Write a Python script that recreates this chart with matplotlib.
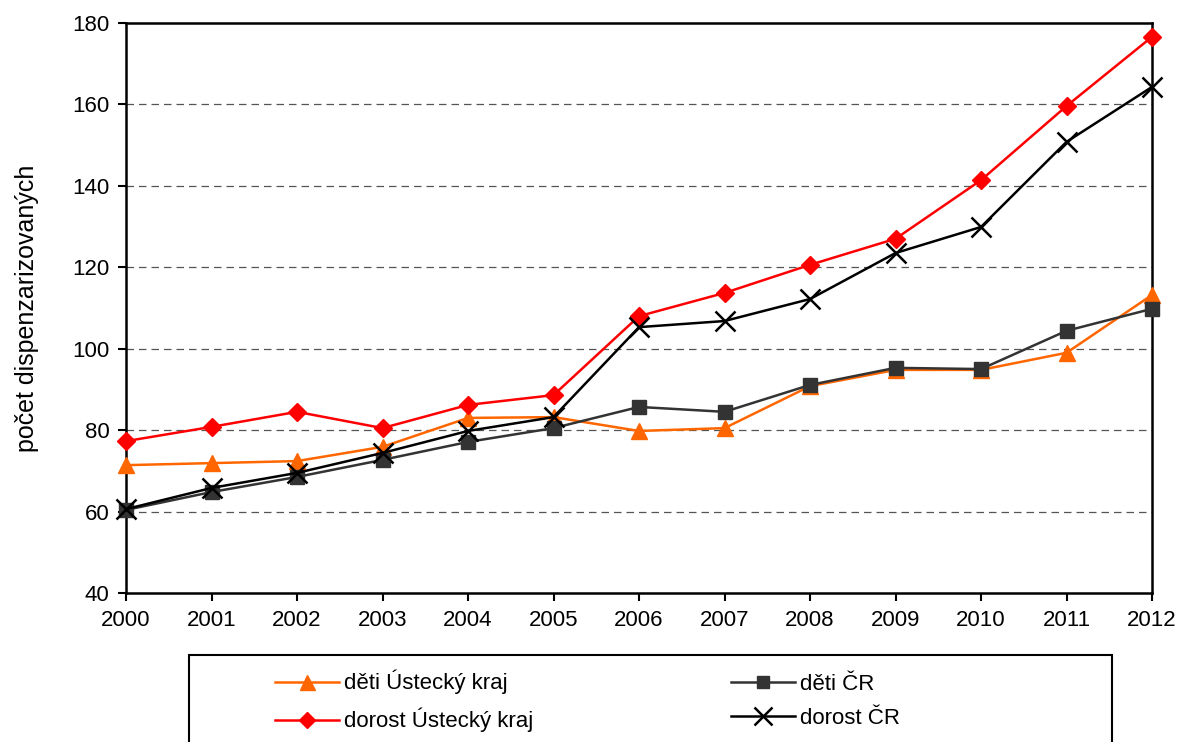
import numpy as np
import matplotlib.pyplot as plt
from matplotlib.patches import Rectangle

plt.rcParams['font.family'] = ['Liberation Sans', 'DejaVu Sans']

roky = np.arange(2000, 2013)
deti_ul = [71.4, 71.9, 72.4, 75.9, 83.0, 83.2, 79.8, 80.5, 90.8, 94.8, 94.8, 99.0, 113.2]
deti_cr = [60.4, 64.8, 68.5, 72.7, 77.1, 80.5, 85.7, 84.5, 91.1, 95.3, 95.0, 104.4, 109.8]
dorost_ul = [77.3, 80.8, 84.5, 80.5, 86.2, 88.6, 108.0, 113.7, 120.6, 127.0, 141.4, 159.6, 176.6]
dorost_cr = [60.6, 65.8, 69.5, 74.4, 79.8, 83.2, 105.3, 106.8, 112.2, 123.5, 129.9, 150.8, 164.3]

fig = plt.figure(figsize=(11.82, 7.42), dpi=100)
ax = fig.add_axes([126/1182, 1 - 593/742, (1152 - 126)/1182, (593 - 23)/742])

l1, = ax.plot(roky, deti_ul, color='#FF6600', lw=1.8, marker='^', ms=12,
              label='děti Ústecký kraj', zorder=3, clip_on=False)
l2, = ax.plot(roky, deti_cr, color='#333333', lw=1.8, marker='s', ms=10,
              label='děti ČR', zorder=3, clip_on=False)
l3, = ax.plot(roky, dorost_ul, color='#FF0000', lw=1.8, marker='D', ms=9,
              label='dorost Ústecký kraj', zorder=3, clip_on=False)
l4, = ax.plot(roky, dorost_cr, color='black', lw=1.8, marker='x', ms=14, mew=1.8,
              label='dorost ČR', zorder=3, clip_on=False)

ax.set_xlim(2000, 2012)
ax.set_ylim(40, 180)
ax.set_xticks(roky)
ax.set_yticks(np.arange(40, 181, 20))
ax.tick_params(labelsize=16, length=6, width=1.5, pad=6)
for y in range(60, 180, 20):
    ax.axhline(y, color='#555555', lw=0.9, ls=(0, (6, 4)), zorder=1)
for s in ax.spines.values():
    s.set_linewidth(1.8)
ax.set_ylabel('počet dispenzarizovaných', fontsize=18, labelpad=24)

fig.patches.append(Rectangle((189/1182, -0.05), (1112 - 189)/1182, 1 - 655/742 + 0.05,
                             transform=fig.transFigure, fill=False, lw=1.5,
                             edgecolor='black'))
fig.legend(handles=[l1, l3, l2, l4], ncol=2, loc='upper left',
           bbox_to_anchor=(275/1182, 1 - 670/742), frameon=False, fontsize=16,
           handlelength=2.9, handletextpad=0.2, columnspacing=8.9,
           labelspacing=0.6, borderpad=0, borderaxespad=0, markerscale=0.9)

fig.savefig('out.png', dpi=100)
